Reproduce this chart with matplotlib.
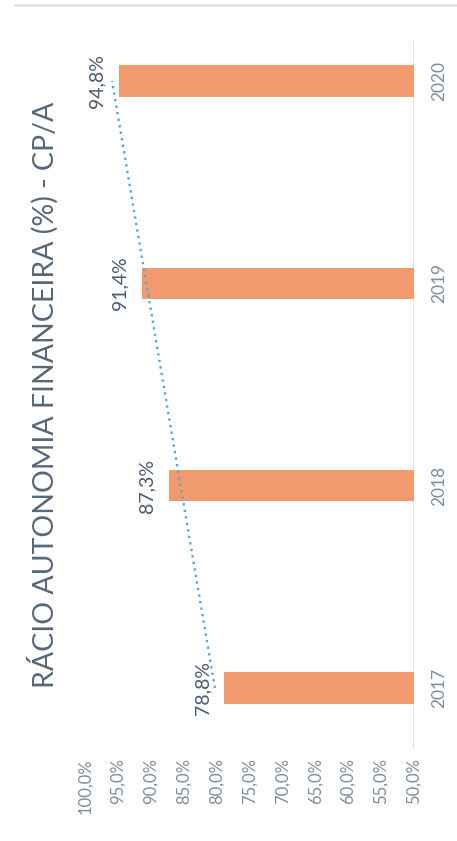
import numpy as np
import matplotlib
matplotlib.use("Agg")
import matplotlib.pyplot as plt
from matplotlib.lines import Line2D

years = ["2017", "2018", "2019", "2020"]
ratio = [78.8, 87.3, 91.4, 94.8]
ticks = [50, 55, 60, 65, 70, 75, 80, 85, 90, 95, 100]
tick_labels = [f"{t},0%" for t in ticks]
value_labels = [f"{v:.1f}%".replace(".", ",") for v in ratio]

plt.rcParams["font.family"] = ["Lato", "DejaVu Sans"]

bar_color = "#F19A6D"
label_color = "#4A5A6E"
axis_color = "#7F8C9A"

fig = plt.figure(figsize=(4.57, 8.41), dpi=100)
fig.patch.set_facecolor("white")

# chart drawn sideways: categories run up the page, values run right-to-left
ax = fig.add_axes([85 / 457, 0.1098, (414 - 85) / 457, 0.9518 - 0.1098])
pos = np.arange(len(years))

ax.barh(pos, [v - 50 for v in ratio], left=50, height=0.155, color=bar_color, zorder=2)

# linear trend line through the yearly values
coef = np.polyfit(pos, ratio, 1)
ax.plot(np.polyval(coef, pos), pos, linestyle=(0, (1, 1.8)), color="#5FA3D8",
        linewidth=1.7, zorder=3)

for i, (v, lab) in enumerate(zip(ratio, value_labels)):
    ax.annotate(lab, (v, i), xytext=(-22, 0), textcoords="offset pixels",
                rotation=90, ha="center", va="center", fontsize=14,
                color=label_color, zorder=4)

ax.set_xlim(100, 50)
ax.set_ylim(-0.3, 3.2)
ax.axvline(50, color="#DCDCDC", linewidth=1.2, zorder=1)

ax.set_xticks(ticks)
ax.set_xticklabels(tick_labels, rotation=90, fontsize=12, color=axis_color)
ax.tick_params(axis="x", length=0, pad=7)
ax.set_yticks([])

for i, y in enumerate(years):
    ax.text((439 - 85) / (414 - 85), i, y, transform=ax.get_yaxis_transform(),
            rotation=90, ha="center", va="center", fontsize=12.5, color=axis_color)

for s in ax.spines.values():
    s.set_visible(False)

fig.text(43 / 457, 0.53, "RÁCIO AUTONOMIA FINANCEIRA (%) - CP/A", rotation=90,
         ha="center", va="center", fontsize=20.5, color="#56677A")

# light frame line along the top edge
fig.add_artist(Line2D([15 / 457, 1], [1 - 5 / 841, 1 - 5 / 841], color="#E4E4E4",
                      linewidth=2, transform=fig.transFigure))

fig.savefig("out.png", dpi=100)
